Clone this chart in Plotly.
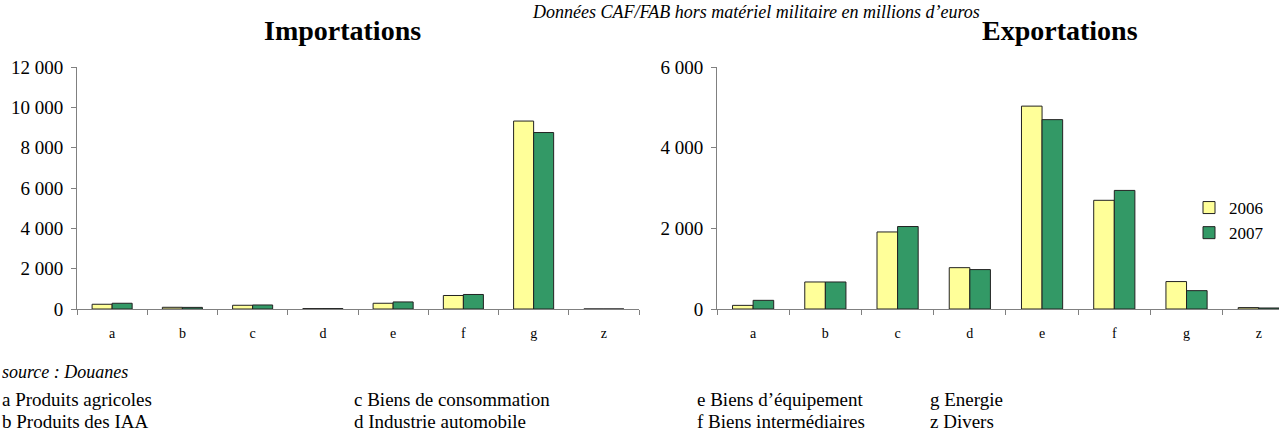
import plotly.graph_objects as go

# Données CAF/FAB en millions d'euros
categories = ["a", "b", "c", "d", "e", "f", "g", "z"]
imports_2006 = [235, 85, 185, 20, 285, 670, 9320, 0]
imports_2007 = [285, 80, 200, 20, 350, 720, 8750, 0]
exports_2006 = [90, 670, 1910, 1025, 5030, 2695, 680, 35]
exports_2007 = [215, 670, 2045, 977, 4695, 2940, 455, 25]

key_labels = [
    ["a Produits agricoles", "b Produits des IAA"],
    ["c Biens de consommation", "d Industrie automobile"],
    ["e Biens d\u2019\u00e9quipement", "f Biens interm\u00e9diaires"],
    ["g Energie", "z Divers"],
]

FONT = "Liberation Serif, Times New Roman, serif"
YELLOW = "#FFFF99"
GREEN = "#339966"
W, H = 1279, 443

fig = go.Figure()

fig.add_trace(go.Bar(x=categories, y=imports_2006, name="2006", marker_color=YELLOW,
                     marker_line=dict(color="#222", width=1), xaxis="x", yaxis="y",
                     legendgroup="2006"))
fig.add_trace(go.Bar(x=categories, y=imports_2007, name="2007", marker_color=GREEN,
                     marker_line=dict(color="#222", width=1), xaxis="x", yaxis="y",
                     legendgroup="2007"))
fig.add_trace(go.Bar(x=categories, y=exports_2006, name="2006", marker_color=YELLOW,
                     marker_line=dict(color="#222", width=1), xaxis="x2", yaxis="y2",
                     legendgroup="2006", showlegend=False))
fig.add_trace(go.Bar(x=categories, y=exports_2007, name="2007", marker_color=GREEN,
                     marker_line=dict(color="#222", width=1), xaxis="x2", yaxis="y2",
                     legendgroup="2007", showlegend=False))

axis_common = dict(showline=True, linecolor="#808080", linewidth=1, showgrid=False,
                   zeroline=False, ticks="outside", tickcolor="#808080", ticklen=5,
                   fixedrange=True)
x_common = dict(axis_common, tickson="boundaries", ticklabelstandoff=11,
                tickfont=dict(family=FONT, size=14, color="#000"))
y_common = dict(axis_common, tickformat=",", ticklabelstandoff=4,
                tickfont=dict(family=FONT, size=19, color="#000"))

y_dom = [1 - 309 / H, 1 - 67 / H]

fig.update_layout(
    width=W, height=H,
    margin=dict(l=0, r=0, t=0, b=0, autoexpand=False),
    paper_bgcolor="white", plot_bgcolor="white",
    separators=", ",
    barmode="group", bargap=0.43, bargroupgap=0,
    font=dict(family=FONT, color="#000"),
    xaxis=dict(x_common, domain=[77 / W, 639 / W], range=[-0.5, 7.5]),
    xaxis2=dict(x_common, domain=[717 / W, 1.0], range=[-0.5, 7.28], anchor="y2"),
    yaxis=dict(y_common, domain=y_dom, range=[0, 12000], dtick=2000, anchor="x"),
    yaxis2=dict(y_common, domain=y_dom, range=[0, 6000], dtick=2000, anchor="x2"),
    legend=dict(x=1189 / W, y=1 - 190 / H, xanchor="left", yanchor="top",
                font=dict(family=FONT, size=17), bgcolor="rgba(0,0,0,0)",
                tracegroupgap=0, itemwidth=30),
)

annotations = [
    dict(text="<b>Importations</b>", x=342 / W, y=1 - 31 / H, font=dict(size=28)),
    dict(text="<b>Exportations</b>", x=1060 / W, y=1 - 31 / H, font=dict(size=28)),
    dict(text="<i>Donn\u00e9es CAF/FAB hors mat\u00e9riel militaire en millions d\u2019euros</i>",
         x=530 / W, y=1.0, xanchor="left", yanchor="top", font=dict(size=18)),
    dict(text="<i>source : Douanes</i>", x=0, y=1 - 372 / H, xanchor="left", font=dict(size=18)),
]
col_x = [0, 352, 695, 928]
for cx, pair in zip(col_x, key_labels):
    for row_y, label in zip([399, 421], pair):
        annotations.append(dict(text=label, x=cx / W, y=1 - row_y / H, xanchor="left",
                                font=dict(size=19)))

for a in annotations:
    a.setdefault("xanchor", "center")
    a.setdefault("yanchor", "middle")
    a.update(xref="paper", yref="paper", showarrow=False)
    a["font"] = dict(family=FONT, color="#000", size=a["font"]["size"])
fig.update_layout(annotations=annotations)

# page margin off so the figure sits at the window's top-left corner
fig.write_html("out.html", config={"displayModeBar": False},
               post_script="document.body.style.margin='0';document.body.style.overflow='hidden';")
